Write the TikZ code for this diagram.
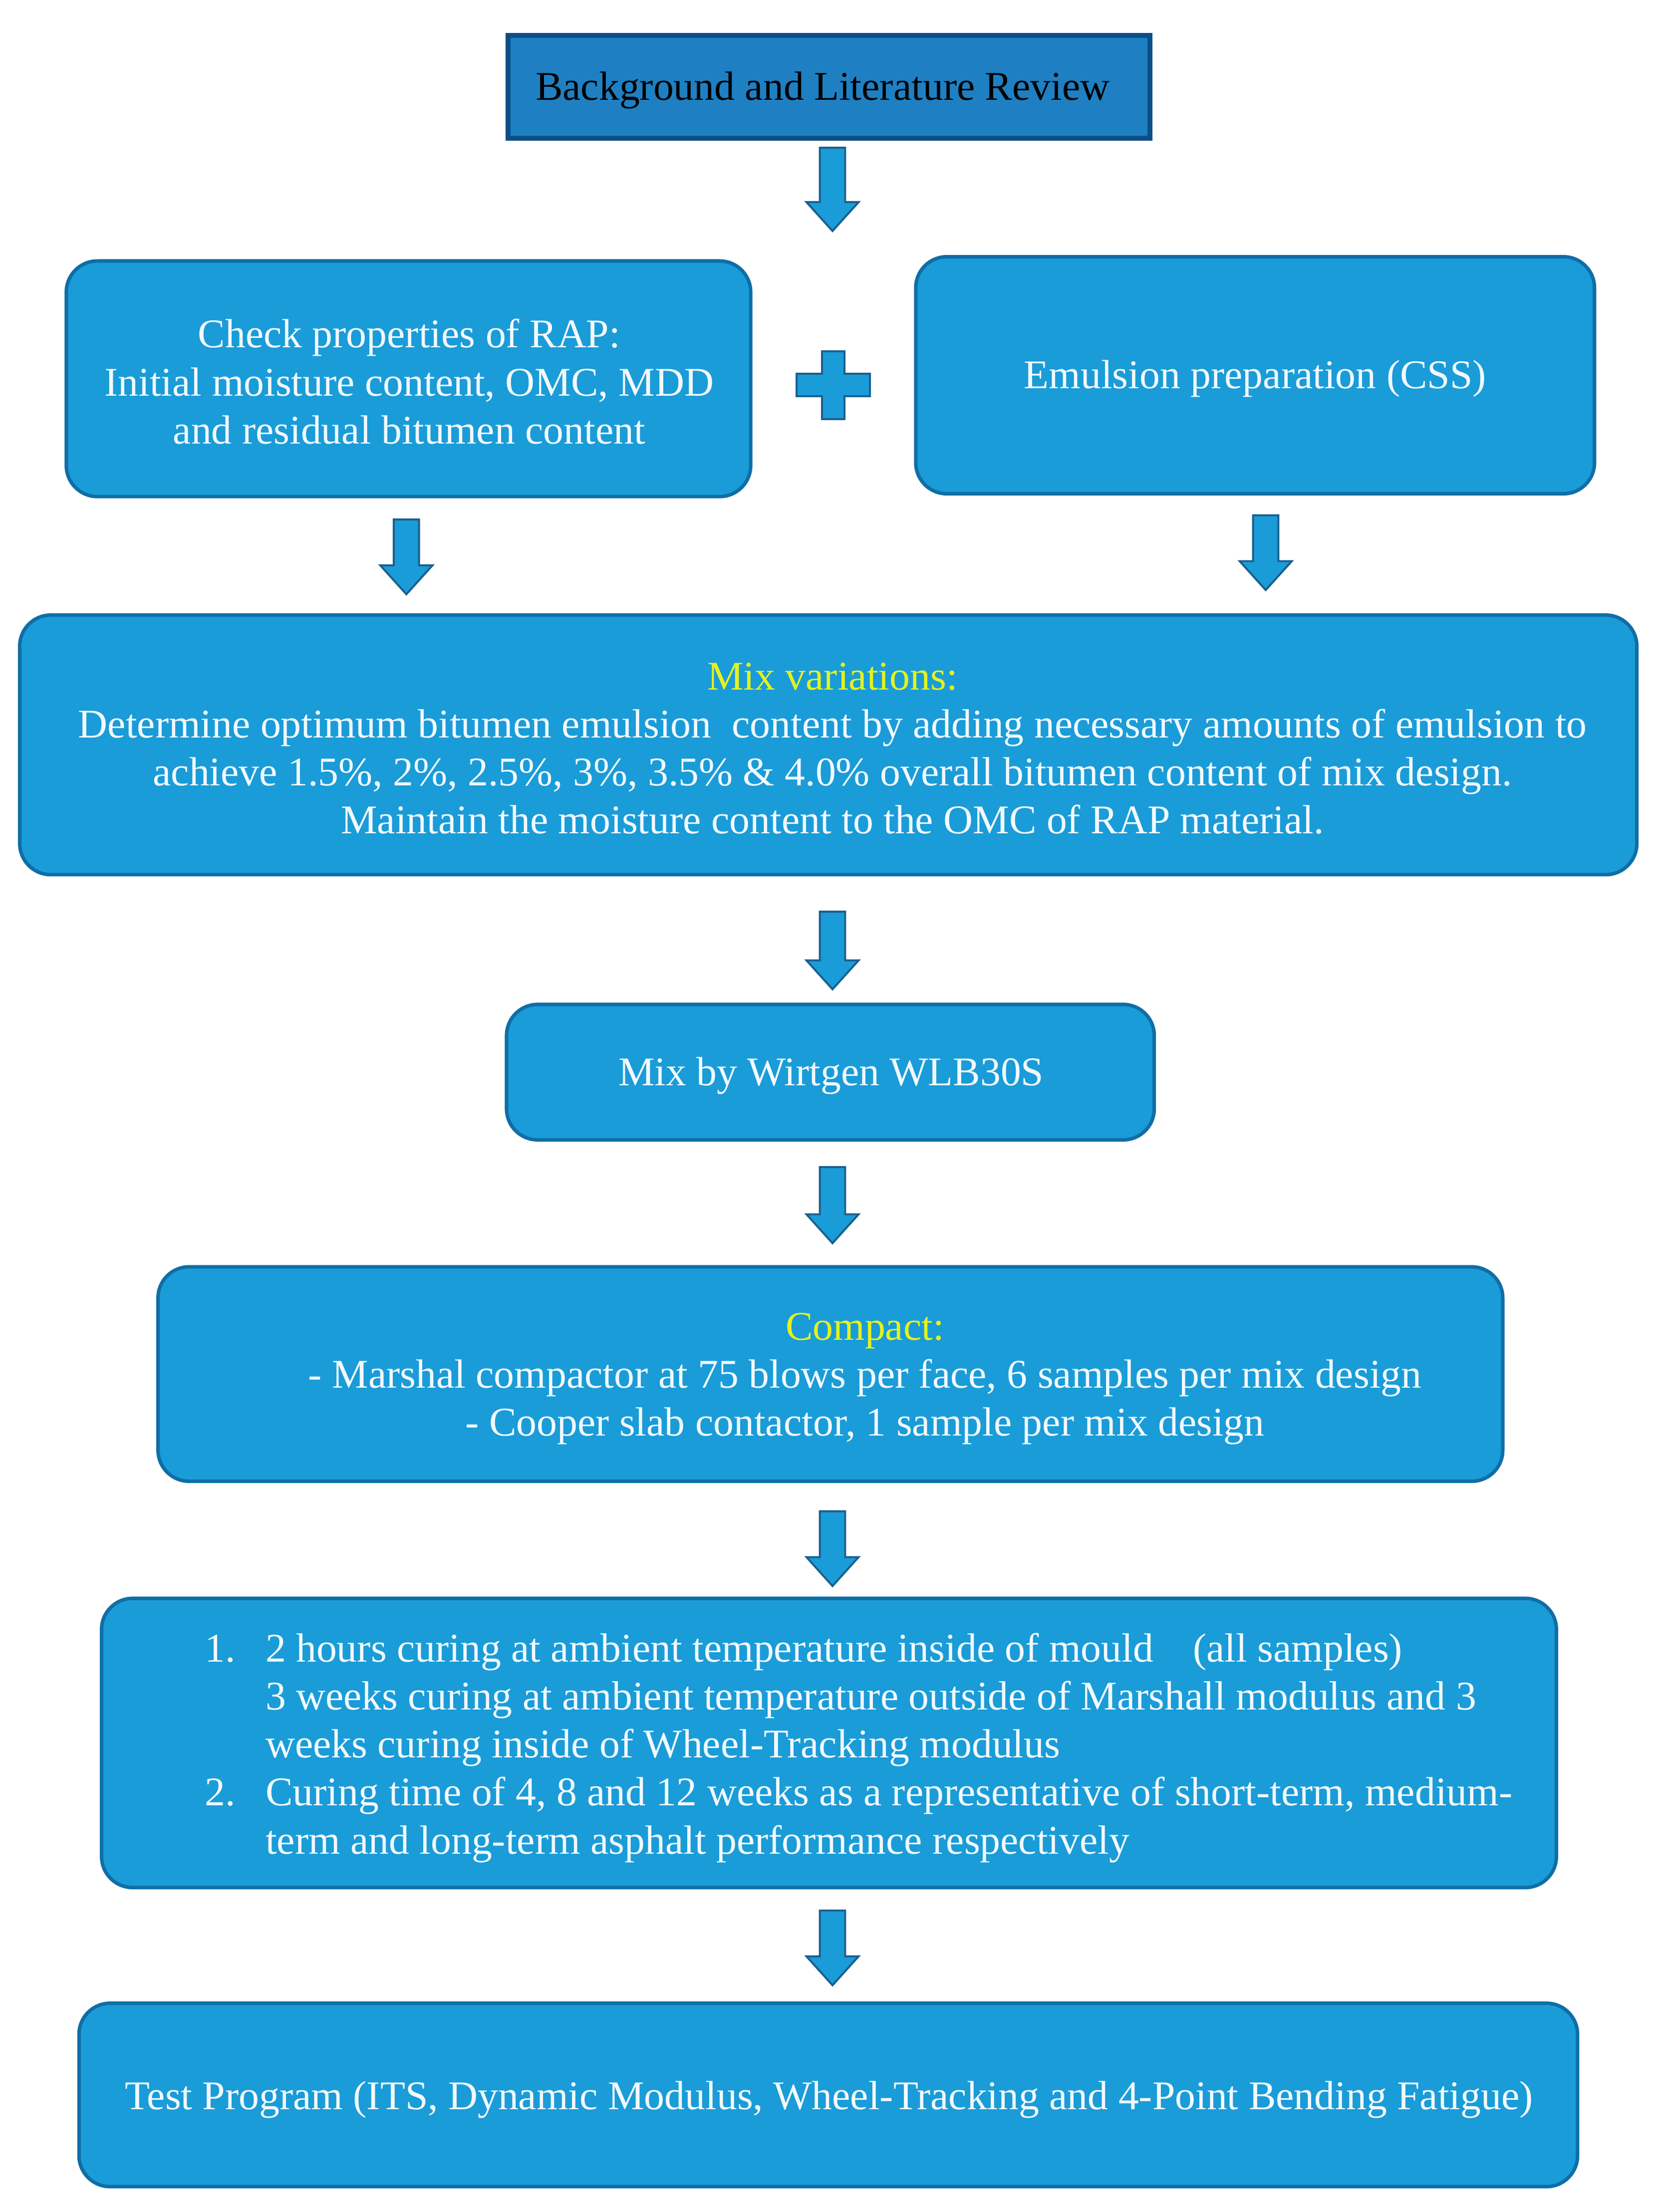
\documentclass[tikz,border=0pt]{standalone}
\usepackage{fontspec}
\setmainfont{Liberation Serif}
\usetikzlibrary{calc}
\definecolor{topfill}{HTML}{1E80C2}
\definecolor{topline}{HTML}{0B4F87}
\definecolor{boxfill}{HTML}{1A9CD8}
\definecolor{boxline}{HTML}{0F6EA6}
\definecolor{arrline}{HTML}{1A5F8E}
\definecolor{txtwhite}{HTML}{F2F9FD}
\definecolor{txtyellow}{HTML}{E4F21E}
\tikzset{
  base/.style={font=\fontsize{28.9}{34}\selectfont, align=center, inner sep=0pt},
  topbox/.style={base, rectangle, fill=topfill, draw=topline, line width=3.5pt, text=black},
  rbox/.style={base, rectangle, rounded corners=22pt, fill=boxfill, draw=boxline, line width=2.5pt, text=txtwhite},
  txt/.style={base, text=txtwhite},
  plusshape/.style={fill=boxfill, draw=arrline, line width=1.4pt, line join=miter},
  blk/.style={fill=boxfill, draw=arrline, line width=1.4pt, line join=miter,
    to path={($(\tikztostart)+(-9,0)$) -- ($(\tikztotarget)+(-9,20.5)$) -- ($(\tikztotarget)+(-18.5,20.5)$) -- (\tikztotarget) -- ($(\tikztotarget)+(18.5,20.5)$) -- ($(\tikztotarget)+(9,20.5)$) -- ($(\tikztostart)+(9,0)$) -- cycle}}
}
\begin{document}
\begin{tikzpicture}[x=1pt,y=1pt]
\path[use as bounding box, fill=white] (0,0) rectangle (1173.3,-1568);

\node[topbox, minimum width=455, minimum height=73] (top) at (587.5,-61.5) {};
\node[base, text=black] (toptxt) at (583,-64) {Background and Literature Review};

\node[rbox, minimum width=485, minimum height=167] (rap) at (289.5,-268.5) {};
\node[txt] (raptxt) at (290,-270.5)
  {Check properties of RAP:\\ Initial moisture content, OMC, MDD\\ and residual bitumen content};
\node[rbox, minimum width=481, minimum height=168] (emu) at (889.5,-266) {};
\node[txt] (emutxt) at (889.5,-268.5) {Emulsion preparation (CSS)};

\coordinate (plus) at (590.5,-273);
\draw[plusshape, shift={(plus)}] (-8,24) -- (8,24) -- (8,8) -- (26,8) -- (26,-8) -- (8,-8) -- (8,-24) -- (-8,-24) -- (-8,-8) -- (-26,-8) -- (-26,8) -- (-8,8) -- cycle;

\node[rbox, minimum width=1146, minimum height=184] (mix) at (587,-528) {};
\node[txt] (mixtxt) at (590,-530.5)
  {\textcolor{txtyellow}{Mix variations:}\\
   Determine optimum bitumen emulsion\ \ content by adding necessary amounts of emulsion to\\
   achieve 1.5\%, 2\%, 2.5\%, 3\%, 3.5\% \& 4.0\% overall bitumen content of mix design.\\
   Maintain the moisture content to the OMC of RAP material.};

\node[rbox, minimum width=459, minimum height=96] (wirt) at (588.5,-760) {};
\node[txt] (wirttxt) at (589,-762.5) {Mix by Wirtgen WLB30S};

\node[rbox, minimum width=953, minimum height=152] (compact) at (588.5,-974) {};
\node[txt] (compacttxt) at (613,-977.5)
  {\textcolor{txtyellow}{Compact:}\\
   - Marshal compactor at 75 blows per face, 6 samples per mix design\\
   - Cooper slab contactor, 1 sample per mix design};

\node[rbox, minimum width=1031, minimum height=205] (curing) at (587.5,-1235.5) {};
\node[txt, align=left, anchor=west] (curingtxt) at (145,-1239)
  {\makebox[43pt][l]{1.}2 hours curing at ambient temperature inside of mould\hspace{28pt}(all samples)\\
   \hspace*{43pt}3 weeks curing at ambient temperature outside of Marshall modulus and 3\\
   \hspace*{43pt}weeks curing inside of Wheel-Tracking modulus\\
   \makebox[43pt][l]{2.}Curing time of 4, 8 and 12 weeks as a representative of short-term, medium-\\
   \hspace*{43pt}term and long-term asphalt performance respectively};

\node[rbox, minimum width=1062, minimum height=130] (test) at (587,-1485) {};
\node[txt] (testtxt) at (587.5,-1488.5)
  {Test Program (ITS, Dynamic Modulus, Wheel-Tracking and 4-Point Bending Fatigue)};

\coordinate (s1) at ($(top.south)+(2.5,-5)$);     \coordinate (t1) at ($(top.south)+(2.5,-64)$);
\coordinate (s2) at ($(rap.south)+(-1.5,-15)$);   \coordinate (t2) at ($(rap.south)+(-1.5,-68)$);
\coordinate (s3) at ($(emu.south)+(7.5,-14)$);    \coordinate (t3) at ($(emu.south)+(7.5,-67)$);
\coordinate (s4) at ($(mix.south)+(3,-25)$);      \coordinate (t4) at ($(mix.south)+(3,-80)$);
\coordinate (s5) at ($(wirt.south)+(1.5,-18)$);   \coordinate (t5) at ($(wirt.south)+(1.5,-72)$);
\coordinate (s6) at ($(compact.south)+(1.5,-20)$);\coordinate (t6) at ($(compact.south)+(1.5,-73)$);
\coordinate (s7) at ($(curing.south)+(2.5,-15)$); \coordinate (t7) at ($(curing.south)+(2.5,-68)$);
\foreach \i in {1,...,7} { \path[blk] (s\i) to (t\i); }
\end{tikzpicture}
\end{document}
